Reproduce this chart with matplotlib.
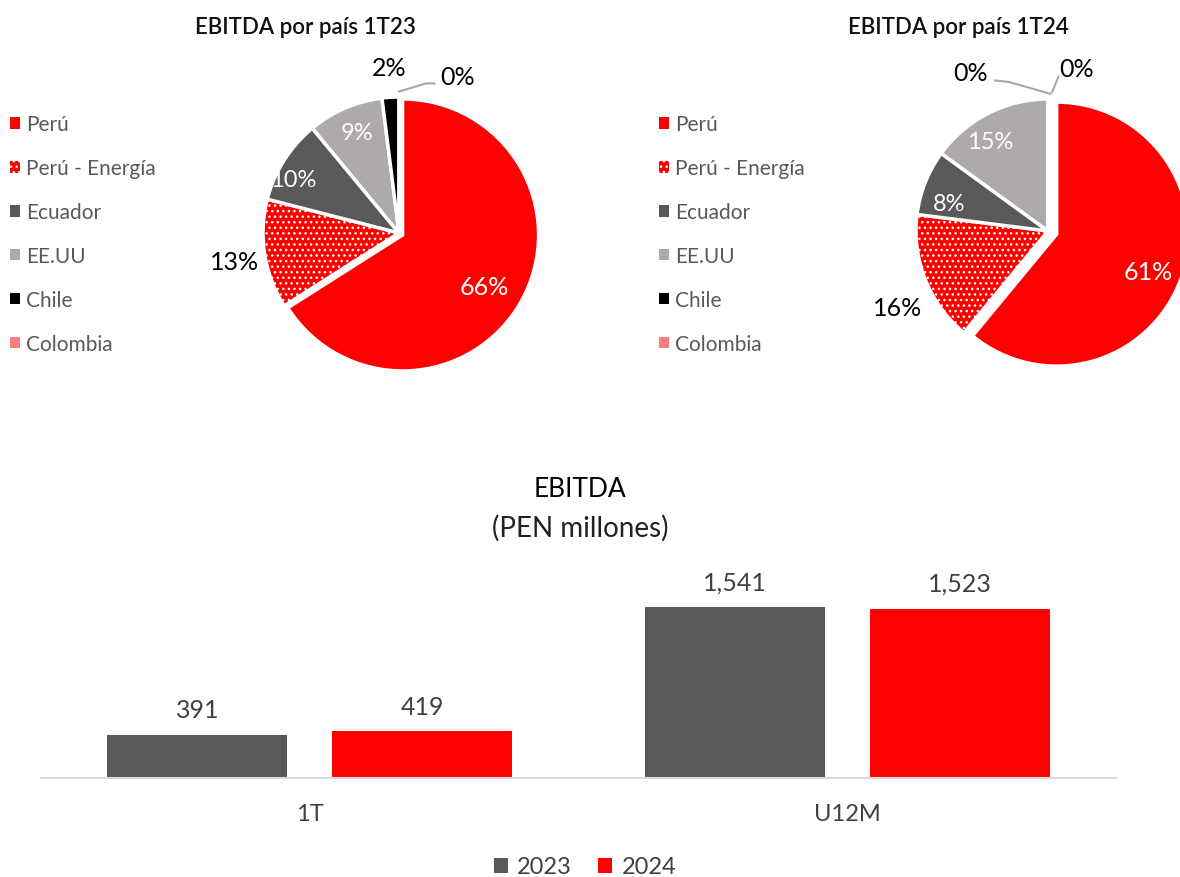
import matplotlib
matplotlib.use("Agg")
import matplotlib.pyplot as plt
from matplotlib.patches import Patch
import numpy as np

plt.rcParams['font.family'] = ['Lato', 'DejaVu Sans']

# pie data
countries = ['Perú', 'Perú - Energía', 'Ecuador', 'EE.UU', 'Chile', 'Colombia']
share_1t23 = [66, 13, 10, 9, 2, 0]
share_1t24 = [61, 16, 8, 15, 0, 0]
pie_titles = ['EBITDA por país 1T23', 'EBITDA por país 1T24']

# bar data
periods = ['1T', 'U12M']
years = ['2023', '2024']
ebitda_2023 = [391, 1541]
ebitda_2024 = [419, 1523]

colors = ['#FF0000', '#FF0000', '#595959', '#AEAAAA', '#000000', '#FF7C80']
hatches = [None, '...', None, None, None, None]
bar_colors = ['#595959', '#FF0000']

W, H = 1180, 878
fig = plt.figure(figsize=(W / 100, H / 100), dpi=100)


def px_axes(left, top, width, height):
    return fig.add_axes([left / W, 1 - (top + height) / H, width / W, height / H])


# label placement (units of radius) and label colours, per pie
label_pos = [
    [(0.63, -0.39), (-1.21, -0.21), (-0.78, 0.39), (-0.31, 0.74), (-0.07, 1.22), (0.43, 1.15)],
    [(0.76, -0.31), (-1.14, -0.58), (-0.75, 0.21), (-0.44, 0.68), (-0.59, 1.20), (0.22, 1.23)],
]
label_col = ['white', 'black', 'white', 'white', 'black', 'black']
label_size = [18, 18, 17, 17, 18, 18]
leaders = [
    {5: [(0.26, 1.10), (0.20, 1.10), (0.0, 1.04)]},
    {4: [(-0.40, 1.14), (-0.30, 1.13), (0.015, 1.04)], 5: [(0.08, 1.17), (0.03, 1.05)]},
]
pie_boxes = [(263, 98, 272, 272), (916, 100, 264, 264)]
explode = [[0.03, 0, 0, 0, 0, 0], [0.07, 0, 0, 0, 0, 0]]
title_x = [305, 958]
legend_x = [0, 649]

for i, shares in enumerate([share_1t23, share_1t24]):
    ax = px_axes(*pie_boxes[i])
    wedges, _ = ax.pie(shares, colors=colors, startangle=90, counterclock=False,
                       explode=explode[i],
                       wedgeprops=dict(edgecolor='white', linewidth=2.5))
    for w, h in zip(wedges, hatches):
        if h:
            w.set_hatch(h)
    ax.set_xlim(-1, 1)
    ax.set_ylim(-1, 1)
    ax.set_aspect('equal')
    for j, v in enumerate(shares):
        x, y = label_pos[i][j]
        ax.text(x, y, f'{v}%', ha='center', va='center', fontsize=label_size[j],
                color=label_col[j], clip_on=False)
    for j, pts in leaders[i].items():
        xs, ys = zip(*pts)
        ax.plot(xs, ys, color='#A6A6A6', lw=1.5, clip_on=False)

    fig.text(title_x[i] / W, 1 - 27 / H, pie_titles[i], ha='center', va='center',
             fontsize=16, fontweight='semibold', color='#111111')

    handles = [Patch(facecolor=c, hatch=h, edgecolor='white' if h else c, linewidth=0)
               for c, h in zip(colors, hatches)]
    leg = fig.legend(handles, countries, loc='upper left',
                     bbox_to_anchor=(legend_x[i] / W, 1 - 105 / H), frameon=False,
                     fontsize=15, handlelength=0.45, handleheight=0.45,
                     handletextpad=0.3, labelspacing=1.15, borderpad=0)
    for t in leg.get_texts():
        t.set_color('#595959')

# bar chart
bx = px_axes(41, 580, 1075, 199)
x = np.arange(len(periods))
bw = 0.335
off = 0.209
for k, (vals, yr) in enumerate([(ebitda_2023, years[0]), (ebitda_2024, years[1])]):
    bars = bx.bar(x + (k * 2 - 1) * off, vals, bw, color=bar_colors[k], label=yr)
    for b, v in zip(bars, vals):
        bx.annotate(f'{v:,}', (b.get_x() + b.get_width() / 2, v),
                    xytext=(0, 10), textcoords='offset points',
                    ha='center', va='bottom', fontsize=18, color='#404040')
bx.set_xlim(-0.5, 1.5)
bx.set_ylim(0, 1793)
bx.set_xticks(x)
bx.set_xticklabels(periods, fontsize=17, color='#404040')
bx.tick_params(axis='x', length=0, pad=18)
bx.set_yticks([])
for s in ['top', 'right', 'left']:
    bx.spines[s].set_visible(False)
bx.spines['bottom'].set_color('#D9D9D9')
bx.spines['bottom'].set_linewidth(1.5)

fig.text(580 / W, 1 - 490 / H, 'EBITDA', ha='center', va='center', fontsize=19,
         color='black')
fig.text(580 / W, 1 - 528 / H, '(PEN millones)', ha='center', va='center', fontsize=20,
         color='#222222')

fig.legend(*bx.get_legend_handles_labels(), loc='center',
           bbox_to_anchor=(585 / W, 1 - 868 / H), ncol=2, frameon=False,
           fontsize=17, handlelength=0.6, handleheight=0.6, handletextpad=0.4,
           columnspacing=1.1, labelcolor='#404040')

fig.savefig('out.png', dpi=100)
